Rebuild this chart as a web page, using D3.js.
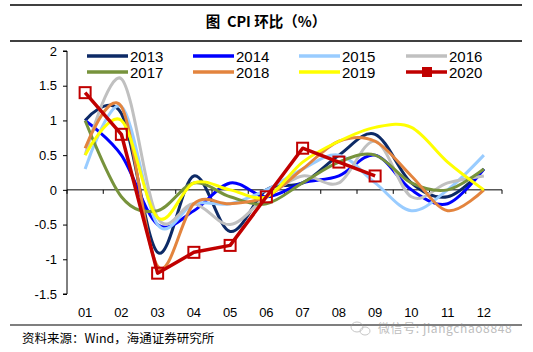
<!DOCTYPE html>
<html>
<head>
<meta charset="utf-8">
<script src="https://cdn.jsdelivr.net/npm/d3@7"></script>
<style>
  body { margin: 0; background: #fff; }
  svg { display: block; font-family: "Liberation Sans", Arial, "Noto Sans CJK SC", sans-serif; }
</style>
</head>
<body>
<div id="chart"></div>
<script>
const months = ["01", "02", "03", "04", "05", "06", "07", "08", "09", "10", "11", "12"];
const yTicks = [2, 1.5, 1, 0.5, 0, -0.5, -1, -1.5];
const cpi2013 = [1.0, 1.1, -0.9, 0.2, -0.6, 0.0, 0.1, 0.5, 0.8, 0.1, -0.1, 0.3];
const cpi2014 = [1.0, 0.5, -0.5, -0.3, 0.1, -0.1, 0.1, 0.2, 0.5, 0.0, -0.2, 0.3];
const cpi2015 = [0.3, 1.2, -0.5, -0.2, -0.2, 0.0, 0.3, 0.5, 0.1, -0.3, 0.0, 0.5];
const cpi2016 = [0.5, 1.6, -0.4, -0.2, -0.5, -0.1, 0.2, 0.1, 0.7, -0.1, 0.1, 0.2];
const cpi2017 = [1.0, -0.1, -0.3, 0.1, -0.1, -0.2, 0.1, 0.4, 0.5, 0.1, 0.0, 0.3];
const cpi2018 = [0.6, 1.2, -1.1, -0.2, -0.2, -0.1, 0.3, 0.7, 0.7, 0.2, -0.3, 0.0];
const cpi2019 = [0.5, 1.0, -0.4, 0.1, 0.0, -0.1, 0.4, 0.7, 0.9, 0.9, 0.4, 0.0];
const cpi2020 = [1.4, 0.8, -1.2, -0.9, -0.8, -0.1, 0.6, 0.4, 0.2];

const series = [
    { name: "2013", values: cpi2013, color: "#0d2a66" },
    { name: "2014", values: cpi2014, color: "#0000ff" },
    { name: "2015", values: cpi2015, color: "#99ccff" },
    { name: "2016", values: cpi2016, color: "#c0c0c0" },
    { name: "2017", values: cpi2017, color: "#77933c" },
    { name: "2018", values: cpi2018, color: "#e3843e" },
    { name: "2019", values: cpi2019, color: "#ffff00" },
    { name: "2020", values: cpi2020, color: "#c00000", marker: true }
];

const width = 533, height = 352;
const svg = d3.select("#chart").append("svg")
    .attr("width", width)
    .attr("height", height);

// Header and footer rules
svg.append("line").attr("x1", 10).attr("x2", 522).attr("y1", 5).attr("y2", 5)
    .attr("stroke", "#000").attr("stroke-width", 1.5);
svg.append("line").attr("x1", 10).attr("x2", 522).attr("y1", 41).attr("y2", 41)
    .attr("stroke", "#000").attr("stroke-width", 1.5);
svg.append("line").attr("x1", 10).attr("x2", 522).attr("y1", 325).attr("y2", 325)
    .attr("stroke", "#000").attr("stroke-width", 1.2);

// Title
svg.append("text")
    .attr("x", 266)
    .attr("y", 27)
    .attr("text-anchor", "middle")
    .style("font-family", "'Noto Sans CJK SC', sans-serif")
    .style("font-size", "14.5px")
    .style("font-weight", "bold")
    .style("white-space", "pre")
    .text("图\u00a0\u00a0CPI 环比（%）");

// Source
svg.append("text")
    .attr("x", 22)
    .attr("y", 343)
    .style("font-family", "'Noto Sans CJK SC', sans-serif")
    .style("font-size", "12.5px")
    .text("资料来源：Wind，海通证券研究所");

// Scales
const x = d3.scaleBand().domain(months).range([67, 502]);
const y = d3.scaleLinear().domain([-1.5, 2]).range([294, 51]);

// Y axis
const yAxis = svg.append("g")
    .attr("transform", "translate(67,0)")
    .call(d3.axisLeft(y).tickValues(yTicks).tickSize(4).tickPadding(6)
        .tickFormat(d => d));
yAxis.select(".domain").attr("d", `M-4,${y(2)}H0V${y(-1.5)}H-4`);
yAxis.selectAll("text").style("font-size", "13px").style("font-family", "'Liberation Sans', Arial");

// X axis at zero
const xAxis = svg.append("g")
    .attr("transform", `translate(0,${y(0)})`)
    .call(d3.axisBottom(x).tickSize(0).tickFormat(""));
xAxis.select(".domain").attr("d", "M67,0H502");
xAxis.selectAll(".bound")
    .data(d3.range(months.length + 1))
    .enter()
    .append("line")
    .attr("x1", i => 67 + i * x.step())
    .attr("x2", i => 67 + i * x.step())
    .attr("y1", 0)
    .attr("y2", 4)
    .attr("stroke", "#000");

// Month labels under the plot
svg.selectAll(".mlabel")
    .data(months)
    .enter()
    .append("text")
    .attr("x", d => x(d) + x.bandwidth() / 2)
    .attr("y", 317)
    .attr("text-anchor", "middle")
    .style("font-size", "13px")
    .text(d => d);

// Lines
const smooth = d3.line()
    .x((d, i) => x(months[i]) + x.bandwidth() / 2)
    .y(d => y(d))
    .curve(d3.curveCardinal.tension(0));
const straight = d3.line()
    .x((d, i) => x(months[i]) + x.bandwidth() / 2)
    .y(d => y(d));

series.forEach(s => {
    svg.append("path")
        .datum(s.values)
        .attr("fill", "none")
        .attr("stroke", s.color)
        .attr("stroke-width", s.marker ? 3.5 : 3)
        .attr("stroke-linejoin", "round")
        .attr("d", s.marker ? straight : smooth);
    if (s.marker) {
        svg.selectAll(".mk")
            .data(s.values)
            .enter()
            .append("rect")
            .attr("x", (d, i) => x(months[i]) + x.bandwidth() / 2 - 5.5)
            .attr("y", d => y(d) - 5.5)
            .attr("width", 11)
            .attr("height", 11)
            .attr("fill", "none")
            .attr("stroke", s.color)
            .attr("stroke-width", 2);
    }
});

// Legend
const legendCols = [87, 193, 299, 406];
const legend = svg.selectAll(".legend")
    .data(series)
    .enter()
    .append("g")
    .attr("transform", (d, i) => `translate(${legendCols[i % 4]},${i < 4 ? 56 : 72})`);
legend.append("line")
    .attr("x1", 0).attr("x2", 41)
    .attr("stroke", d => d.color)
    .attr("stroke-width", 3.5);
legend.filter(d => d.marker)
    .append("rect")
    .attr("x", 16).attr("y", -5).attr("width", 10).attr("height", 10)
    .attr("fill", d => d.color);
legend.append("text")
    .attr("x", 43)
    .attr("y", 5.5)
    .style("font-size", "15px")
    .text(d => d.name);

// Watermark
const wm = svg.append("g").attr("opacity", 0.55);
wm.append("ellipse").attr("cx", 357).attr("cy", 327).attr("rx", 6).attr("ry", 5)
    .attr("fill", "none").attr("stroke", "#999");
wm.append("ellipse").attr("cx", 365).attr("cy", 331).attr("rx", 5).attr("ry", 4)
    .attr("fill", "none").attr("stroke", "#999");
wm.append("text")
    .attr("x", 378)
    .attr("y", 333)
    .style("font-family", "'Noto Sans CJK SC', sans-serif")
    .style("font-size", "12px")
    .style("letter-spacing", "0.6px")
    .attr("fill", "#888")
    .text("微信号: jiangchao8848");
</script>
</body>
</html>
